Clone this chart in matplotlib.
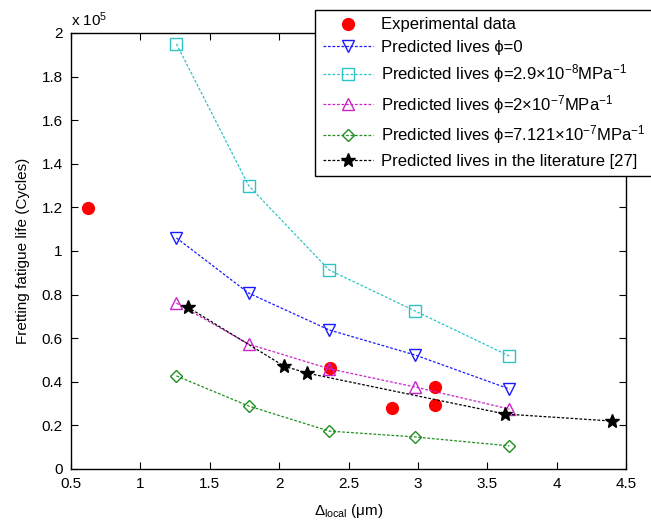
import matplotlib
matplotlib.use("Agg")
import matplotlib.pyplot as plt
from matplotlib.ticker import FixedLocator

plt.rcParams['font.family'] = ['Liberation Sans', 'DejaVu Sans']
plt.rcParams['mathtext.fontset'] = 'custom'
plt.rcParams['mathtext.rm'] = 'Liberation Sans'
plt.rcParams['mathtext.it'] = 'Liberation Sans:italic'
plt.rcParams['mathtext.bf'] = 'Liberation Sans:bold'

# ---- data (life in units of 1e5 cycles) ----
exp_x = [0.62, 2.37, 2.81, 3.12, 3.12]
exp_y = [1.195, 0.463, 0.28, 0.376, 0.294]

pred_x = [1.26, 1.78, 2.36, 2.98, 3.66]
phi0_y = [1.06, 0.807, 0.638, 0.523, 0.367]
phi29e8_y = [1.95, 1.30, 0.913, 0.725, 0.518]
phi2e7_y = [0.761, 0.573, 0.46, 0.376, 0.275]
phi7121e7_y = [0.427, 0.289, 0.174, 0.147, 0.106]

lit_x = [1.34, 2.035, 2.20, 3.63, 4.40]
lit_y = [0.743, 0.472, 0.44, 0.252, 0.22]

xticks = [0.5, 1, 1.5, 2, 2.5, 3, 3.5, 4, 4.5]
xticklabels = ['0.5', '1', '1.5', '2', '2.5', '3', '3.5', '4', '4.5']
yticks = [0, 0.2, 0.4, 0.6, 0.8, 1.0, 1.2, 1.4, 1.6, 1.8, 2.0]
yticklabels = ['0', '0.2', '0.4', '0.6', '0.8', '1', '1.2', '1.4', '1.6', '1.8', '2']

labels = [
    'Experimental data',
    'Predicted lives ϕ=0',
    'Predicted lives ϕ=2.9×10$^{-8}$MPa$^{-1}$',
    'Predicted lives ϕ=2×10$^{-7}$MPa$^{-1}$',
    'Predicted lives ϕ=7.121×10$^{-7}$MPa$^{-1}$',
    'Predicted lives in the literature [27]',
]

fig = plt.figure(figsize=(6.51, 5.30), dpi=100)
ax = fig.add_axes([71/651, 61/530, (626-71)/651, (469-33)/530])

ls = (0, (2.2, 1.4))
lw = 0.9
h = []
h += ax.plot(exp_x, exp_y, 'o', color='red', markersize=8.5, linestyle='none', label=labels[0])
h += ax.plot(pred_x, phi0_y, marker='v', color='#1a1aff', markerfacecolor='none', markersize=9,
             linestyle=ls, linewidth=lw, label=labels[1])
h += ax.plot(pred_x, phi29e8_y, marker='s', color='#2ec4c4', markerfacecolor='none', markersize=8,
             linestyle=ls, linewidth=lw, label=labels[2])
h += ax.plot(pred_x, phi2e7_y, marker='^', color='#cc22cc', markerfacecolor='none', markersize=9,
             linestyle=ls, linewidth=lw, label=labels[3])
h += ax.plot(pred_x, phi7121e7_y, marker='D', color='#1f8f1f', markerfacecolor='none', markersize=6.5,
             linestyle=ls, linewidth=lw, label=labels[4])
h += ax.plot(lit_x, lit_y, marker='*', color='black', markersize=10,
             linestyle=ls, linewidth=lw, label=labels[5])

ax.set_xlim(0.5, 4.5)
ax.set_ylim(0, 2)
ax.xaxis.set_major_locator(FixedLocator(xticks))
ax.set_xticklabels(xticklabels)
ax.yaxis.set_major_locator(FixedLocator(yticks))
ax.set_yticklabels(yticklabels)
ax.tick_params(direction='in', top=True, right=True, labelsize=11, length=5, width=0.8, pad=6)
for s in ax.spines.values():
    s.set_linewidth(1.0)

ax.set_xlabel('Δ$_{\\mathrm{local}}$ (μm)', fontsize=11, labelpad=8)
ax.set_ylabel('Fretting fatigue life (Cycles)', fontsize=11, labelpad=8)
fig.text(71/651, 1 - 20/530, 'x 10$^{5}$', fontsize=11, va='center', ha='left')

leg = fig.legend(handles=h, labels=labels, loc='upper right',
                 bbox_to_anchor=(653/651, 1 - 10/530), bbox_transform=fig.transFigure,
                 fontsize=12, frameon=True, fancybox=False, framealpha=1,
                 edgecolor='black', handlelength=3.0, handletextpad=0.5,
                 labelspacing=0.45, borderpad=0.45, borderaxespad=0)
leg.get_frame().set_linewidth(1.0)

fig.savefig('out.png', dpi=100)
